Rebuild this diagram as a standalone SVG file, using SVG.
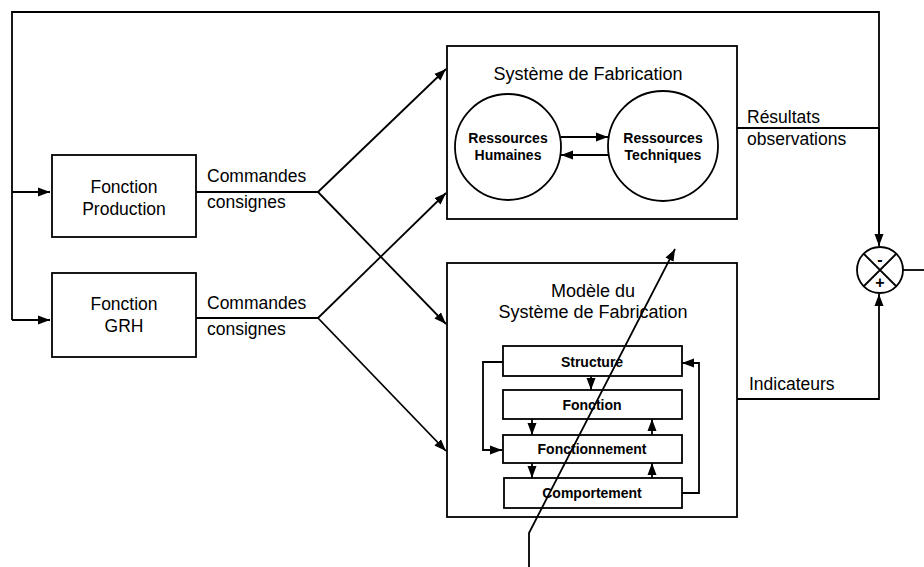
<svg xmlns="http://www.w3.org/2000/svg" width="924" height="567" viewBox="0 0 924 567">
<style>
.ln{fill:none;stroke:#000;stroke-width:1.8}
.bx{fill:#fff;stroke:#000;stroke-width:1.8}
.t{font-family:"Liberation Sans",Arial,sans-serif;font-size:17.5px;fill:#000}
.tc{font-family:"Liberation Sans",Arial,sans-serif;font-size:17.5px;fill:#000;text-anchor:middle}
.tb{font-family:"Liberation Sans",Arial,sans-serif;font-size:14px;font-weight:bold;fill:#000;text-anchor:middle}
</style>
<defs>
<marker id="ah" markerUnits="userSpaceOnUse" markerWidth="13" markerHeight="11" refX="12" refY="5.5" orient="auto">
<path d="M0,1 L12,5.5 L0,10 z" fill="#000"/>
</marker>
</defs>
<rect width="924" height="567" fill="#fff"/>
<g id="connectors">
<path class="ln" d="M879,245 V12 H12 V320"/>
<path class="ln" d="M12,192 H50" marker-end="url(#ah)"/>
<path class="ln" d="M12,320 H50" marker-end="url(#ah)"/>
<path class="ln" d="M196,192 H318"/>
<path class="ln" d="M196,318 H318"/>
<path class="ln" d="M318,192 L446,69" marker-end="url(#ah)"/>
<path class="ln" d="M318,192 L446,324" marker-end="url(#ah)"/>
<path class="ln" d="M318,318 L446,193" marker-end="url(#ah)"/>
<path class="ln" d="M318,318 L446,451" marker-end="url(#ah)"/>
<path class="ln" d="M737,128 H879"/>
<path class="ln" d="M879,128 V246" marker-end="url(#ah)"/>
<path class="ln" d="M737,399 H879 V294" marker-end="url(#ah)"/>
<path class="ln" d="M903,270 H924"/>
</g>
<g id="fonction-production">
<rect class="bx" x="52" y="155" width="144" height="82"/>
<text class="tc" x="124" y="193">Fonction</text>
<text class="tc" x="124" y="215">Production</text>
</g>
<g id="fonction-grh">
<rect class="bx" x="52" y="273" width="144" height="84"/>
<text class="tc" x="124" y="310">Fonction</text>
<text class="tc" x="124" y="332">GRH</text>
</g>
<g id="labels">
<text class="t" x="207" y="182">Commandes</text>
<text class="t" x="207" y="208">consignes</text>
<text class="t" x="207" y="309">Commandes</text>
<text class="t" x="207" y="335">consignes</text>
<text class="t" x="747" y="123">Résultats</text>
<text class="t" x="747" y="145">observations</text>
<text class="t" x="749" y="390">Indicateurs</text>
</g>
<g id="systeme">
<rect class="bx" x="447" y="46" width="290" height="173"/>
<text class="tc" x="588" y="80" style="font-size:18px">Système de Fabrication</text>
<g id="rh">
<circle class="bx" cx="508" cy="147" r="53"/>
<text class="tb" x="508" y="143">Ressources</text>
<text class="tb" x="508" y="160">Humaines</text>
</g>
<g id="rt">
<circle class="bx" cx="663" cy="146" r="55"/>
<text class="tb" x="663" y="143">Ressources</text>
<text class="tb" x="663" y="160">Techniques</text>
</g>
<path class="ln" d="M561,137 H608" marker-end="url(#ah)"/>
<path class="ln" d="M608,155 H561" marker-end="url(#ah)"/>
</g>
<g id="modele">
<rect class="bx" x="447" y="263" width="290" height="254"/>
<text class="tc" x="593" y="297" style="font-size:18px">Modèle du</text>
<text class="tc" x="593" y="318" style="font-size:18px">Système de Fabrication</text>
<path class="ln" d="M503,362 H483 V450 H502" marker-end="url(#ah)"/>
<path class="ln" d="M682,493 H699 V363 H682" marker-end="url(#ah)"/>
<path class="ln" d="M591,376 V390" marker-end="url(#ah)"/>
<path class="ln" d="M532,419 V435" marker-end="url(#ah)"/>
<path class="ln" d="M652,435 V419" marker-end="url(#ah)"/>
<path class="ln" d="M532,463 V478" marker-end="url(#ah)"/>
<path class="ln" d="M652,478 V463" marker-end="url(#ah)"/>
<g id="structure"><rect class="bx" x="503" y="346" width="179" height="30"/><text class="tb" x="592" y="367">Structure</text></g>
<g id="fonction"><rect class="bx" x="503" y="390" width="179" height="29"/><text class="tb" x="592" y="410">Fonction</text></g>
<g id="fonctionnement"><rect class="bx" x="503" y="435" width="179" height="28"/><text class="tb" x="592" y="454">Fonctionnement</text></g>
<g id="comportement"><rect class="bx" x="504" y="478" width="178" height="30"/><text class="tb" x="592" y="498">Comportement</text></g>
</g>
<g id="comparateur">
<circle class="bx" cx="880" cy="270" r="23"/>
<path class="ln" d="M864,254 L896,286 M896,254 L864,286"/>
<text x="880" y="265" style="font-family:'Liberation Sans',Arial,sans-serif;font-size:16px;font-weight:bold;text-anchor:middle">-</text>
<text x="880" y="288" style="font-family:'Liberation Sans',Arial,sans-serif;font-size:16px;font-weight:bold;text-anchor:middle">+</text>
</g>
<g id="diagonal">
<path class="ln" d="M529,567 V533 L675,249" marker-end="url(#ah)"/>
</g>
</svg>
